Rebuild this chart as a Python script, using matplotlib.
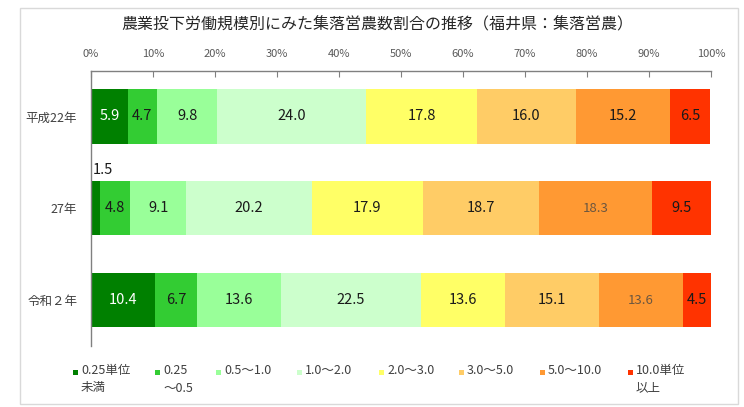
import matplotlib
matplotlib.use("Agg")
import matplotlib.pyplot as plt
from matplotlib.patches import Rectangle
import numpy as np

plt.rcParams['font.family'] = ['Noto Sans CJK JP', 'DejaVu Sans']

title = "農業投下労働規模別にみた集落営農数割合の推移（福井県：集落営農）"
years = ["平成22年", "27年", "令和２年"]
classes = ["0.25単位\n未満", "0.25\n～0.5", "0.5～1.0", "1.0～2.0",
           "2.0～3.0", "3.0～5.0", "5.0～10.0", "10.0単位\n以上"]
h22 = [5.9, 4.7, 9.8, 24.0, 17.8, 16.0, 15.2, 6.5]
h27 = [1.5, 4.8, 9.1, 20.2, 17.9, 18.7, 18.3, 9.5]
r2 = [10.4, 6.7, 13.6, 22.5, 13.6, 15.1, 13.6, 4.5]
xticks = [0, 10, 20, 30, 40, 50, 60, 70, 80, 90, 100]

colors = ["#008000", "#33cc33", "#99ff99", "#ccffcc",
          "#ffff66", "#ffcc66", "#ff9933", "#ff3300"]

W, H = 744, 407
fig = plt.figure(figsize=(W / 100, H / 100), dpi=100)
fig.patches.append(Rectangle((20 / W, 1 - 404 / H), 718 / W, 396 / H,
                             transform=fig.transFigure, fill=False,
                             edgecolor="#d9d9d9", linewidth=1))

ax = fig.add_axes([91 / W, 1 - 346 / H, 620 / W, 275.5 / H])
data = np.array([h22, h27, r2])
y = np.arange(len(years))
left = np.zeros(len(years))
for j in range(len(classes)):
    ax.barh(y, data[:, j], left=left, height=0.59, color=colors[j], linewidth=0)
    for i in range(len(years)):
        v = data[i, j]
        cx = left[i] + v / 2
        if i == 1 and j == 0:
            # small segment: label sits above the bar
            ax.text(left[i] + 0.25, i - 0.42, f"{v:.1f}", ha="left", va="center",
                    fontsize=10.5, color="#1a1a1a")
        elif j == 6 and i > 0:
            ax.text(cx, i, f"{v:.1f}", ha="center", va="center",
                    fontsize=9.5, color="#6b5640")
        else:
            c = "white" if j == 0 else "#1a1a1a"
            ax.text(cx, i, f"{v:.1f}", ha="center", va="center",
                    fontsize=10.5, color=c)
    left += data[:, j]

ax.set_xlim(0, 100)
ax.set_ylim(2.5, -0.5)
ax.set_xticks(xticks)
ax.set_xticklabels([f"{t}%" for t in xticks])
ax.xaxis.tick_top()
ax.tick_params(axis="x", direction="in", length=4, color="#808080",
               labelsize=8, labelcolor="#595959", pad=8)
ax.set_yticks(y)
ax.set_yticklabels(years)
ax.tick_params(axis="y", length=0, labelsize=9, labelcolor="#404040", pad=10)
for s in ["right", "bottom"]:
    ax.spines[s].set_visible(False)
for s in ["top", "left"]:
    ax.spines[s].set_color("#808080")
    ax.spines[s].set_linewidth(1)

fig.text(377 / W, 1 - 25 / H, title, ha="center", va="center",
         fontsize=11.5, color="#262626")

# legend
marker_x = [73, 155, 216, 297, 379, 459, 540, 628]
for mx, lab, c in zip(marker_x, classes, colors):
    fig.patches.append(Rectangle((mx / W, 1 - 374.5 / H), 5 / W, 5 / H,
                                 transform=fig.transFigure, color=c, linewidth=0))
    fig.text((mx + 8) / W, 1 - 364 / H, lab, ha="left", va="top",
             fontsize=9, color="#404040", linespacing=1.45)

fig.savefig("out.png", dpi=100)
